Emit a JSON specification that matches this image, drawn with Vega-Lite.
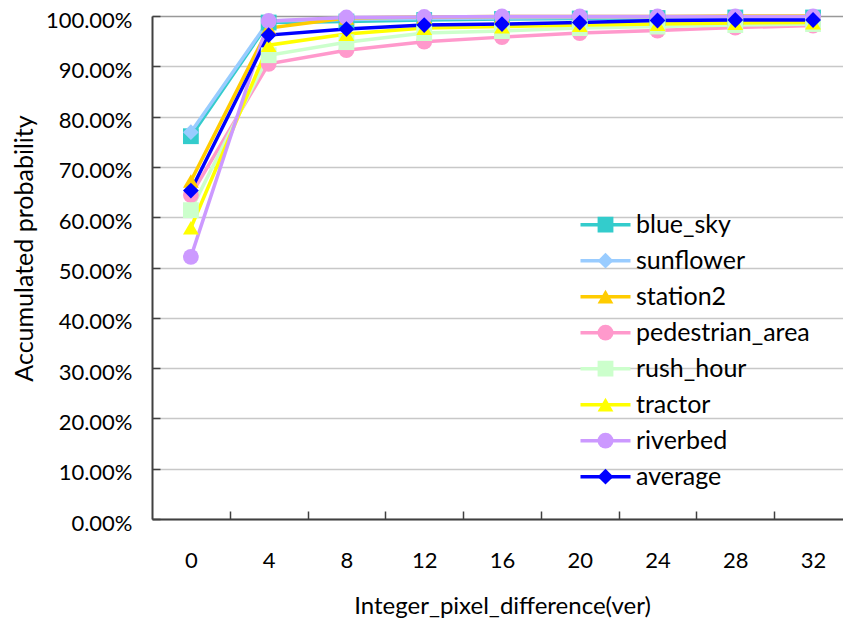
{
  "$schema": "https://vega.github.io/schema/vega-lite/v6.json",
  "width": 691,
  "height": 503,
  "autosize": {"type": "none"},
  "padding": {"left": 152, "top": 16, "right": 0, "bottom": 103},
  "background": "white",
  "config": {"view": {"stroke": null}, "font": "Lato"},
  "data": {"values": [
    {"series": "blue_sky", "x": 0, "p": 0.761}, {"series": "blue_sky", "x": 4, "p": 0.987}, {"series": "blue_sky", "x": 8, "p": 0.989}, {"series": "blue_sky", "x": 12, "p": 0.992}, {"series": "blue_sky", "x": 16, "p": 0.994}, {"series": "blue_sky", "x": 20, "p": 0.995}, {"series": "blue_sky", "x": 24, "p": 0.996}, {"series": "blue_sky", "x": 28, "p": 0.997}, {"series": "blue_sky", "x": 32, "p": 0.997},
    {"series": "sunflower", "x": 0, "p": 0.769}, {"series": "sunflower", "x": 4, "p": 0.990}, {"series": "sunflower", "x": 8, "p": 0.993}, {"series": "sunflower", "x": 12, "p": 0.995}, {"series": "sunflower", "x": 16, "p": 0.996}, {"series": "sunflower", "x": 20, "p": 0.997}, {"series": "sunflower", "x": 24, "p": 0.997}, {"series": "sunflower", "x": 28, "p": 0.998}, {"series": "sunflower", "x": 32, "p": 0.998},
    {"series": "station2", "x": 0, "p": 0.672}, {"series": "station2", "x": 4, "p": 0.976}, {"series": "station2", "x": 8, "p": 0.996}, {"series": "station2", "x": 12, "p": 0.998}, {"series": "station2", "x": 16, "p": 0.999}, {"series": "station2", "x": 20, "p": 0.999}, {"series": "station2", "x": 24, "p": 0.999}, {"series": "station2", "x": 28, "p": 1.0}, {"series": "station2", "x": 32, "p": 1.0},
    {"series": "pedestrian_area", "x": 0, "p": 0.644}, {"series": "pedestrian_area", "x": 4, "p": 0.905}, {"series": "pedestrian_area", "x": 8, "p": 0.932}, {"series": "pedestrian_area", "x": 12, "p": 0.949}, {"series": "pedestrian_area", "x": 16, "p": 0.958}, {"series": "pedestrian_area", "x": 20, "p": 0.966}, {"series": "pedestrian_area", "x": 24, "p": 0.971}, {"series": "pedestrian_area", "x": 28, "p": 0.977}, {"series": "pedestrian_area", "x": 32, "p": 0.981},
    {"series": "rush_hour", "x": 0, "p": 0.614}, {"series": "rush_hour", "x": 4, "p": 0.922}, {"series": "rush_hour", "x": 8, "p": 0.948}, {"series": "rush_hour", "x": 12, "p": 0.966}, {"series": "rush_hour", "x": 16, "p": 0.970}, {"series": "rush_hour", "x": 20, "p": 0.976}, {"series": "rush_hour", "x": 24, "p": 0.979}, {"series": "rush_hour", "x": 28, "p": 0.982}, {"series": "rush_hour", "x": 32, "p": 0.984},
    {"series": "tractor", "x": 0, "p": 0.579}, {"series": "tractor", "x": 4, "p": 0.942}, {"series": "tractor", "x": 8, "p": 0.964}, {"series": "tractor", "x": 12, "p": 0.976}, {"series": "tractor", "x": 16, "p": 0.979}, {"series": "tractor", "x": 20, "p": 0.982}, {"series": "tractor", "x": 24, "p": 0.984}, {"series": "tractor", "x": 28, "p": 0.986}, {"series": "tractor", "x": 32, "p": 0.987},
    {"series": "riverbed", "x": 0, "p": 0.521}, {"series": "riverbed", "x": 4, "p": 0.990}, {"series": "riverbed", "x": 8, "p": 0.997}, {"series": "riverbed", "x": 12, "p": 0.998}, {"series": "riverbed", "x": 16, "p": 0.999}, {"series": "riverbed", "x": 20, "p": 0.999}, {"series": "riverbed", "x": 24, "p": 0.999}, {"series": "riverbed", "x": 28, "p": 0.999}, {"series": "riverbed", "x": 32, "p": 0.999},
    {"series": "average", "x": 0, "p": 0.653}, {"series": "average", "x": 4, "p": 0.962}, {"series": "average", "x": 8, "p": 0.974}, {"series": "average", "x": 12, "p": 0.982}, {"series": "average", "x": 16, "p": 0.984}, {"series": "average", "x": 20, "p": 0.987}, {"series": "average", "x": 24, "p": 0.991}, {"series": "average", "x": 28, "p": 0.992}, {"series": "average", "x": 32, "p": 0.992}
  ]},
  "encoding": {
    "x": {
      "field": "x", "type": "quantitative",
      "scale": {"domain": [-2, 33.54], "nice": false, "zero": false},
      "axis": {
        "values": [0, 2, 4, 6, 8, 10, 12, 14, 16, 18, 20, 22, 24, 26, 28, 30, 32],
        "labelExpr": "datum.value % 4 === 0 ? datum.value : ''",
        "grid": false,
        "domainColor": "#404040", "domainWidth": 2,
        "tickColor": "#404040", "tickWidth": 1.5, "tickSize": -8,
        "tickOpacity": {"condition": {"test": "datum.value % 4 === 2", "value": 1}, "value": 0},
        "labelPadding": 39, "labelFontSize": 22, "labelColor": "#000000", "labelFont": "Lato",
        "title": "Integer_pixel_difference(ver)", "titleFontSize": 24, "titleFontWeight": "normal", "titleColor": "#000000", "titleFont": "Lato",
        "titleX": 350, "titleY": 87, "titleBaseline": "middle", "titleAlign": "center"
      }
    },
    "y": {
      "field": "p", "type": "quantitative",
      "scale": {"domain": [0, 1], "nice": false},
      "axis": {
        "values": [0, 0.1, 0.2, 0.3, 0.4, 0.5, 0.6, 0.7, 0.8, 0.9, 1.0],
        "format": ".2%",
        "grid": true, "gridWidth": 1.5,
        "gridColor": {"condition": {"test": "datum.value >= 0.999", "value": "#999999"}, "value": "#c8c8c8"},
        "domainColor": "#404040", "domainWidth": 2,
        "tickColor": "#404040", "tickWidth": 1.5, "tickSize": -8,
        "labelPadding": 28, "labelFontSize": 22, "labelColor": "#000000", "labelFont": "Lato",
        "labelBaseline": "middle", "labelOffset": 4,
        "title": "Accumulated probability", "titleFontSize": 25, "titleFontWeight": "normal", "titleColor": "#000000", "titleFont": "Lato",
        "titleX": -128, "titleY": 232, "titleAngle": -90, "titleBaseline": "middle", "titleAlign": "center"
      }
    }
  },
  "layer": [
    {
      "mark": {"type": "line", "strokeWidth": 3.5},
      "encoding": {
        "stroke": {
          "field": "series", "type": "nominal",
          "sort": ["blue_sky", "sunflower", "station2", "pedestrian_area", "rush_hour", "tractor", "riverbed", "average"],
          "scale": {
            "range": ["#33CCCC", "#99CCFF", "#FFCC00", "#FF99CC", "#CCFFCC", "#FFFF00", "#CC99FF", "#0000FF"]
          },
          "legend": {
            "orient": "none", "legendX": 426.5, "legendY": 191, "title": null,
            "symbolType": "stroke", "symbolSize": 2500, "symbolStrokeWidth": 3.5,
            "labelFontSize": 25, "labelFont": "Lato", "labelColor": "#000000", "labelOffset": 3.5, "labelLimit": 400,
            "clipHeight": 35.3, "rowPadding": 0, "padding": 0
          }
        }
      }
    },
    {
      "mark": {"type": "point", "filled": true, "opacity": 1, "size": 250, "strokeWidth": 0},
      "encoding": {
        "fill": {
          "field": "series", "type": "nominal",
          "scale": {
            "domain": ["blue_sky", "sunflower", "station2", "pedestrian_area", "rush_hour", "tractor", "riverbed", "average"],
            "range": ["#33CCCC", "#99CCFF", "#FFCC00", "#FF99CC", "#CCFFCC", "#FFFF00", "#CC99FF", "#0000FF"]
          },
          "legend": {
            "orient": "none", "legendX": 426.5, "legendY": 191, "title": null,
            "symbolSize": 250, "symbolStrokeWidth": 0, "symbolOffset": 14.5, "symbolOpacity": 1,
            "labelFontSize": 25, "labelFont": "Lato", "labelOpacity": 0, "labelExpr": "''",
            "clipHeight": 35.3, "rowPadding": 0, "padding": 0
          }
        },
        "shape": {
          "field": "series", "type": "nominal",
          "scale": {
            "domain": ["blue_sky", "sunflower", "station2", "pedestrian_area", "rush_hour", "tractor", "riverbed", "average"],
            "range": ["square", "diamond", "triangle-up", "circle", "square", "triangle-up", "circle", "diamond"]
          },
          "legend": {
            "orient": "none", "legendX": 426.5, "legendY": 191, "title": null,
            "symbolSize": 250, "symbolStrokeWidth": 0, "symbolOffset": 14.5, "symbolOpacity": 1,
            "labelFontSize": 25, "labelFont": "Lato", "labelOpacity": 0, "labelExpr": "''",
            "clipHeight": 35.3, "rowPadding": 0, "padding": 0
          }
        }
      }
    }
  ]
}
